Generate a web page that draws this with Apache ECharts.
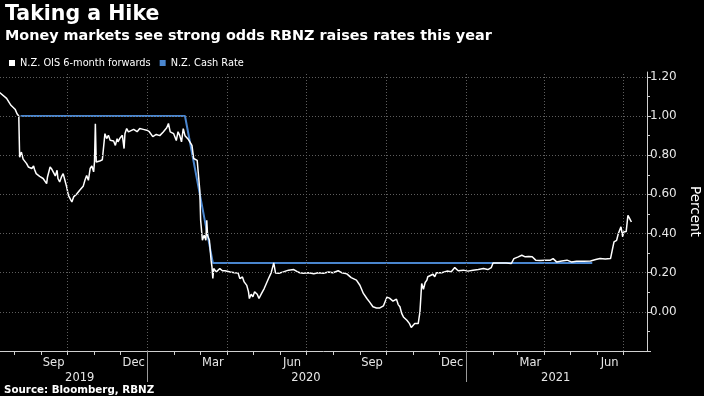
<!DOCTYPE html>
<html><head><meta charset="utf-8">
<script src="https://cdn.jsdelivr.net/npm/echarts@6/dist/echarts.min.js"></script>
<style>html,body{margin:0;padding:0;background:#000;}#c{width:704px;height:396px;}</style>
</head><body><div id="c"></div>
<script>
const oisDates = ['2019-07-15','2019-07-23','2019-07-28','2019-08-02','2019-08-04','2019-08-06','2019-08-07','2019-08-09','2019-08-11','2019-08-15','2019-08-17','2019-08-19','2019-08-21','2019-08-23','2019-08-24','2019-08-26','2019-08-30','2019-09-03','2019-09-05','2019-09-07','2019-09-08','2019-09-11','2019-09-13','2019-09-15','2019-09-17','2019-09-19','2019-09-20','2019-09-22','2019-09-24','2019-09-26','2019-09-28','2019-09-30','2019-10-02','2019-10-04','2019-10-06','2019-10-08','2019-10-12','2019-10-15','2019-10-19','2019-10-21','2019-10-23','2019-10-25','2019-10-27','2019-10-29','2019-10-31','2019-11-01','2019-11-02','2019-11-03','2019-11-05','2019-11-07','2019-11-10','2019-11-12','2019-11-13','2019-11-15','2019-11-17','2019-11-19','2019-11-21','2019-11-23','2019-11-25','2019-11-27','2019-11-28','2019-11-30','2019-12-03','2019-12-05','2019-12-06','2019-12-08','2019-12-10','2019-12-12','2019-12-16','2019-12-20','2019-12-23','2019-12-27','2019-12-31','2020-01-03','2020-01-07','2020-01-11','2020-01-15','2020-01-19','2020-01-23','2020-01-25','2020-01-27','2020-01-31','2020-02-03','2020-02-05','2020-02-07','2020-02-09','2020-02-11','2020-02-13','2020-02-17','2020-02-21','2020-02-23','2020-02-27','2020-02-29','2020-03-01','2020-03-02','2020-03-04','2020-03-06','2020-03-08','2020-03-09','2020-03-10','2020-03-12','2020-03-14','2020-03-15','2020-03-16','2020-03-17','2020-03-20','2020-03-24','2020-03-27','2020-03-30','2020-04-05','2020-04-10','2020-04-14','2020-04-16','2020-04-19','2020-04-21','2020-04-22','2020-04-24','2020-04-26','2020-04-27','2020-04-29','2020-05-01','2020-05-03','2020-05-06','2020-05-08','2020-05-11','2020-05-14','2020-05-16','2020-05-19','2020-05-22','2020-05-25','2020-05-27','2020-05-31','2020-06-05','2020-06-11','2020-06-17','2020-06-21','2020-06-24','2020-06-28','2020-07-04','2020-07-10','2020-07-15','2020-07-21','2020-07-27','2020-08-01','2020-08-07','2020-08-11','2020-08-17','2020-08-22','2020-08-28','2020-09-01','2020-09-05','2020-09-09','2020-09-12','2020-09-16','2020-09-20','2020-09-24','2020-09-28','2020-10-02','2020-10-05','2020-10-09','2020-10-13','2020-10-15','2020-10-17','2020-10-19','2020-10-21','2020-10-23','2020-10-25','2020-10-26','2020-10-28','2020-10-30','2020-11-01','2020-11-03','2020-11-07','2020-11-09','2020-11-11','2020-11-13','2020-11-15','2020-11-17','2020-11-18','2020-11-20','2020-11-24','2020-11-26','2020-11-28','2020-12-04','2020-12-10','2020-12-15','2020-12-19','2020-12-23','2020-12-29','2021-01-03','2021-01-09','2021-01-15','2021-01-21','2021-01-26','2021-01-30','2021-02-01','2021-02-05','2021-02-11','2021-02-16','2021-02-22','2021-02-25','2021-02-27','2021-03-02','2021-03-06','2021-03-10','2021-03-14','2021-03-18','2021-03-22','2021-03-27','2021-04-02','2021-04-08','2021-04-11','2021-04-15','2021-04-21','2021-04-27','2021-05-02','2021-05-08','2021-05-16','2021-05-24','2021-05-30','2021-06-04','2021-06-10','2021-06-16','2021-06-18','2021-06-20','2021-06-23','2021-06-25','2021-06-28','2021-06-30','2021-07-01','2021-07-04','2021-07-06','2021-07-08','2021-07-10'];
const oisValues = [1.12,1.09,1.055,1.033,1.012,1.0,0.79,0.816,0.78,0.757,0.74,0.749,0.732,0.745,0.728,0.706,0.692,0.681,0.672,0.655,0.689,0.74,0.728,0.738,0.694,0.723,0.681,0.663,0.689,0.706,0.672,0.638,0.595,0.587,0.561,0.587,0.604,0.621,0.641,0.672,0.697,0.672,0.732,0.745,0.715,0.765,0.961,0.765,0.774,0.77,0.777,0.774,0.91,0.885,0.902,0.876,0.88,0.873,0.85,0.885,0.868,0.885,0.902,0.834,0.91,0.936,0.919,0.919,0.932,0.92,0.936,0.932,0.928,0.92,0.895,0.906,0.9,0.919,0.94,0.962,0.919,0.91,0.875,0.92,0.9,0.868,0.936,0.9,0.88,0.85,0.783,0.774,0.672,0.621,0.468,0.366,0.391,0.366,0.468,0.39,0.366,0.264,0.23,0.17,0.221,0.204,0.221,0.21,0.21,0.204,0.2,0.199,0.17,0.178,0.153,0.16,0.135,0.102,0.068,0.09,0.077,0.102,0.09,0.068,0.094,0.119,0.11,0.17,0.199,0.25,0.199,0.197,0.204,0.213,0.216,0.205,0.2,0.197,0.2,0.195,0.2,0.197,0.204,0.2,0.21,0.2,0.194,0.175,0.162,0.136,0.094,0.068,0.051,0.026,0.02,0.02,0.03,0.075,0.07,0.055,0.065,0.037,0.026,-0.008,-0.026,-0.034,-0.043,-0.05,-0.06,-0.08,-0.08,-0.06,-0.06,0.0,0.145,0.115,0.15,0.162,0.179,0.179,0.192,0.179,0.2,0.2,0.208,0.205,0.226,0.21,0.213,0.208,0.213,0.216,0.221,0.216,0.226,0.25,0.25,0.25,0.25,0.247,0.272,0.265,0.281,0.289,0.281,0.283,0.281,0.264,0.262,0.264,0.264,0.272,0.255,0.26,0.264,0.255,0.258,0.258,0.26,0.267,0.272,0.27,0.272,0.315,0.357,0.365,0.4,0.434,0.383,0.408,0.41,0.493,0.476,0.459];
const cashDates = ['2019-08-08','2020-02-13','2020-03-16','2021-05-26'];
const cashValues = [1.00,1.00,0.25,0.25];

const monthLabels = ['Sep','Dec','Mar','Jun','Sep','Dec','Mar','Jun'];
const monthLabelDates = ['2019-09-15','2019-12-16','2020-03-16','2020-06-15','2020-09-15','2020-12-16','2021-03-16','2021-06-15'];
const yearLabels = ['2019','2020','2021'];
const yearLabelDates = ['2019-10-15','2020-07-01','2021-04-14'];
const yearBreakDates = ['2020-01-01','2021-01-01'];
const monthTickDates = ['2019-08-01','2019-09-01','2019-10-01','2019-11-01','2019-12-01','2020-01-01','2020-02-01','2020-03-01','2020-04-01','2020-05-01','2020-06-01','2020-07-01','2020-08-01','2020-09-01','2020-10-01','2020-11-01','2020-12-01','2021-01-01','2021-02-01','2021-03-01','2021-04-01','2021-05-01','2021-06-01','2021-07-01'];
const quarterGridDates = ['2019-10-01','2020-01-01','2020-04-01','2020-07-01','2020-10-01','2021-01-01','2021-04-01','2021-07-01'];
const yTickValues = [-0.2,0,0.2,0.4,0.6,0.8,1.0,1.2];
const yMinorTickValues = [-0.1,0.1,0.3,0.5,0.7,0.9,1.1];
const yGridValues = [0,0.2,0.4,0.6,0.8,1.0,1.2];
const xStart = '2019-07-15 10';
const xEnd = '2021-07-27 22';

function ts(s) {
  const parts = s.split(' ');
  const d = parts[0].split('-').map(Number);
  const h = parts[1] ? Number(parts[1]) : 0;
  return Date.UTC(d[0], d[1] - 1, d[2], h);
}

const monthLabelMap = {};
monthLabelDates.forEach((d, i) => { monthLabelMap[ts(d)] = monthLabels[i]; });
const yearLabelMap = {};
yearLabelDates.forEach((d, i) => { yearLabelMap[ts(d)] = yearLabels[i]; });

const LABEL_FONT = 'DejaVu Sans';
const gridLineStyle = { color: '#5e5e5e', type: [1, 2], width: 1 };

const chart = echarts.init(document.getElementById('c'), null, { renderer: 'canvas' });
chart.setOption({
  animation: false,
  backgroundColor: '#000000',
  graphic: [
    { type: 'text', x: 5, y: 15, style: { text: 'Taking a Hike', fill: '#ffffff', font: 'bold 20.5px "DejaVu Sans"', textVerticalAlign: 'middle' } },
    { type: 'text', x: 5, y: 36, style: { text: 'Money markets see strong odds RBNZ raises rates this year', fill: '#ffffff', font: 'bold 14.4px "DejaVu Sans"', textVerticalAlign: 'middle' } },
    { type: 'text', x: 4, y: 390, style: { text: 'Source: Bloomberg, RBNZ', fill: '#ffffff', font: 'bold 10.3px "DejaVu Sans"', textVerticalAlign: 'middle' } }
  ],
  legend: {
    data: ['N.Z. OIS 6-month forwards', 'N.Z. Cash Rate'],
    left: 4, top: 53, icon: 'rect', itemWidth: 6, itemHeight: 6, itemGap: 9,
    textStyle: { color: '#ffffff', fontFamily: LABEL_FONT, fontSize: 9.8 },
    selectedMode: false
  },
  grid: { left: 0, right: 57, top: 72, bottom: 45, containLabel: false, outerBoundsMode: 'none' },
  xAxis: [
    {
      type: 'value', min: ts(xStart), max: ts(xEnd), position: 'bottom',
      axisLine: { show: true, onZero: false, lineStyle: { color: '#d0d0d0', width: 1 } },
      axisTick: { show: true, customValues: monthTickDates.map(ts), length: 4, lineStyle: { color: '#d0d0d0' } },
      axisLabel: {
        show: true, customValues: monthLabelDates.map(ts), margin: 6,
        color: '#e6e6e6', fontFamily: LABEL_FONT, fontSize: 11.5,
        formatter: v => monthLabelMap[v] || ''
      },
      splitLine: { show: false }
    },
    {
      type: 'value', min: ts(xStart), max: ts(xEnd), position: 'bottom', gridIndex: 0,
      axisLine: { show: false, onZero: false },
      axisTick: { show: true, customValues: yearBreakDates.map(ts), length: 31, lineStyle: { color: '#9a9a9a' } },
      axisLabel: {
        show: true, customValues: yearLabelDates.map(ts), margin: 21,
        color: '#e6e6e6', fontFamily: LABEL_FONT, fontSize: 11.5,
        formatter: v => yearLabelMap[v] || ''
      },
      splitLine: { show: false }
    }
  ],
  yAxis: [
    {
      type: 'value', position: 'right', min: -0.2, max: 1.225,
      name: 'Percent', nameLocation: 'middle', nameRotate: -90, nameGap: 40,
      nameTextStyle: { color: '#ffffff', fontFamily: LABEL_FONT, fontSize: 13.5 },
      axisLine: { show: true, onZero: false, lineStyle: { color: '#d0d0d0', width: 1 } },
      axisTick: { show: true, customValues: yTickValues, length: 4, lineStyle: { color: '#d0d0d0' } },
      axisLabel: {
        show: true, customValues: yTickValues.filter(v => v > -0.15), margin: 3,
        color: '#e6e6e6', fontFamily: LABEL_FONT, fontSize: 12,
        formatter: v => v.toFixed(2)
      },
      splitLine: { show: false }
    },
    {
      type: 'value', position: 'right', min: -0.2, max: 1.225,
      axisLine: { show: false, onZero: false },
      axisTick: { show: true, customValues: yMinorTickValues, length: 3, lineStyle: { color: '#d0d0d0' } },
      axisLabel: { show: false },
      splitLine: { show: false }
    }
  ],
  series: [
    {
      name: 'grid', type: 'line', data: [], z: 1, silent: true,
      markLine: {
        silent: true, symbol: ['none', 'none'], label: { show: false }, animation: false,
        lineStyle: gridLineStyle,
        data: quarterGridDates.map(d => ({ xAxis: ts(d) })).concat(yGridValues.map(v => ({ yAxis: v })))
      }
    },
    {
      name: 'N.Z. Cash Rate', type: 'line', z: 2,
      data: cashDates.map((d, i) => [ts(d), cashValues[i]]),
      showSymbol: false, symbol: 'none',
      itemStyle: { color: '#4a86cf' },
      lineStyle: { color: '#4a86cf', width: 2 }
    },
    {
      name: 'N.Z. OIS 6-month forwards', type: 'line', z: 3,
      data: oisDates.map((d, i) => [ts(d), oisValues[i]]),
      showSymbol: false, symbol: 'none',
      itemStyle: { color: '#ffffff' },
      lineStyle: { color: '#ffffff', width: 1.5 }
    }
  ]
});
</script>
</body></html>
